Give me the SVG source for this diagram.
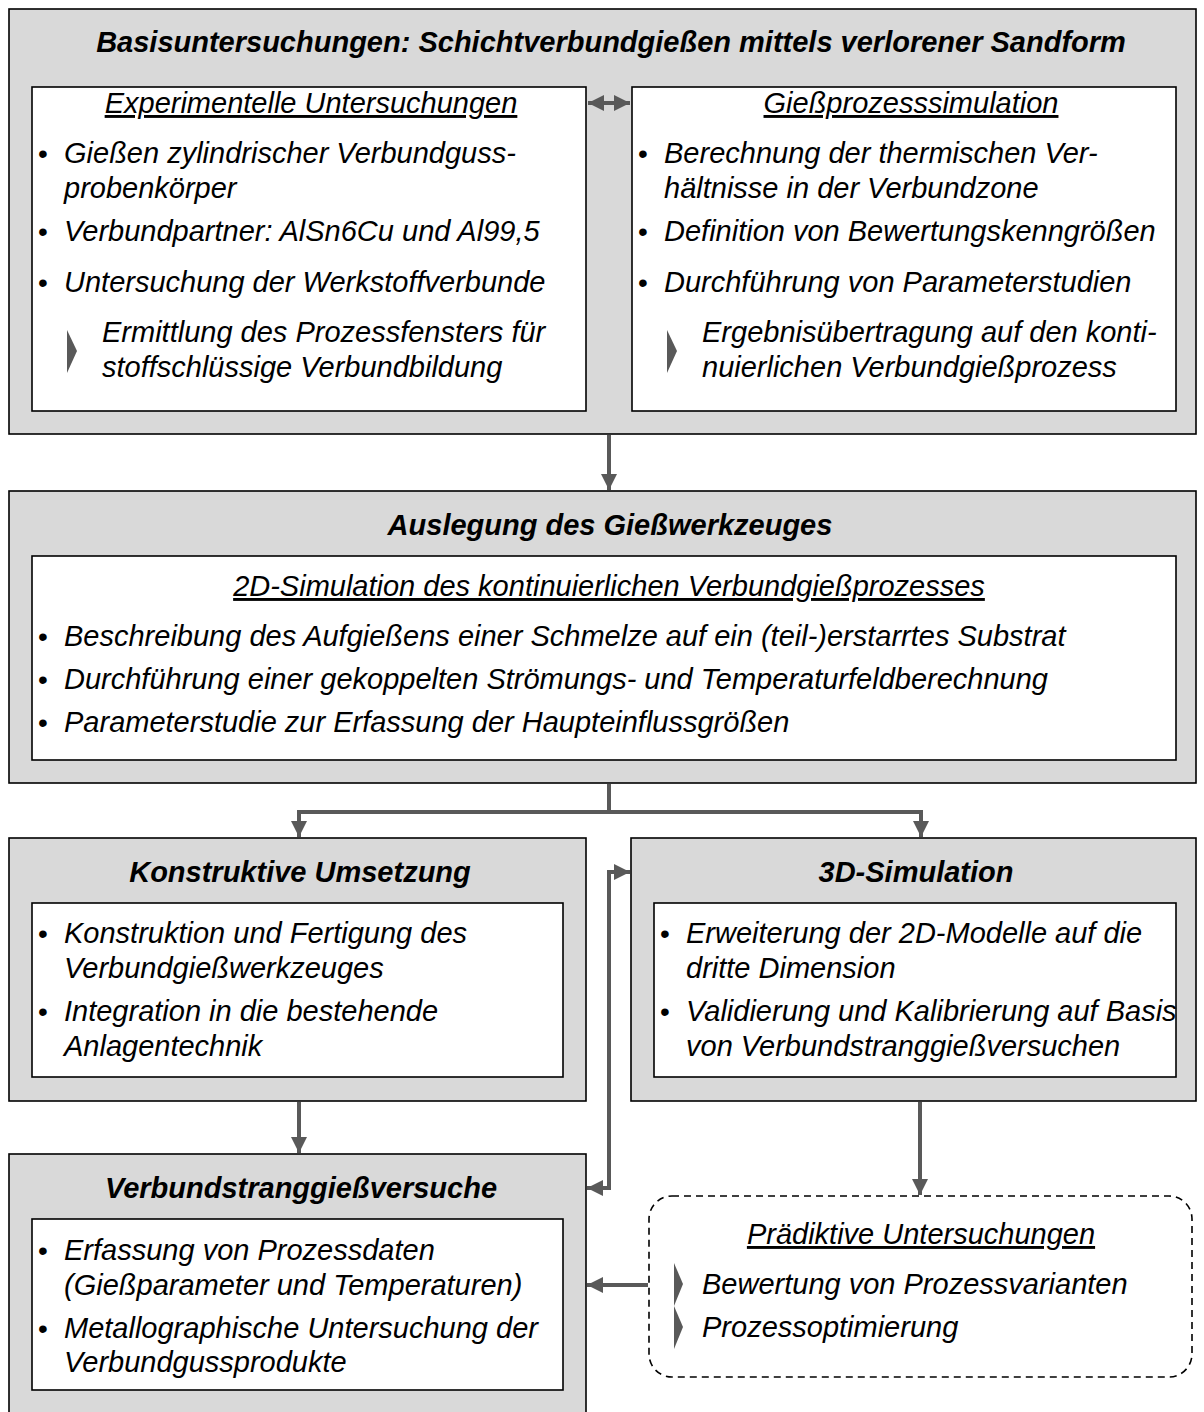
<svg xmlns="http://www.w3.org/2000/svg" width="1204" height="1412" viewBox="0 0 1204 1412">
<defs>
<style>
.outer{fill:#d9d9d9;stroke:#000;stroke-width:1.6}
.inner{fill:#fff;stroke:#000;stroke-width:1.6}
.dash{fill:#fff;stroke:#000;stroke-width:1.6;stroke-dasharray:7,5}
.t{font-family:"Liberation Sans",Arial,sans-serif;font-size:29px;font-style:italic;fill:#000}
.h{font-family:"Liberation Sans",Arial,sans-serif;font-size:29px;font-style:italic;font-weight:bold;fill:#000}
.b{font-family:"Liberation Sans",Arial,sans-serif;font-size:28px;fill:#000}
.u{text-decoration:underline}
.m{text-anchor:middle}
.c{fill:none;stroke:#595959;stroke-width:4}
.tri{fill:#595959}
</style>
<marker id="ah" viewBox="0 0 10 10" refX="10" refY="5" markerWidth="4" markerHeight="4" markerUnits="strokeWidth" orient="auto-start-reverse">
<path d="M0,0 L10,5 L0,10 z" fill="#595959"/>
</marker>
</defs>

<g id="node-basis">
<rect class="outer" x="9" y="9" width="1187" height="425"/>
<text class="h m" x="611" y="52">Basisuntersuchungen: Schichtverbundgießen mittels verlorener Sandform</text>
</g>
<g id="node-experimentell">
<rect class="inner" x="32" y="87" width="554" height="324"/>
<text class="t m u" x="311" y="113">Experimentelle Untersuchungen</text>
<text class="b" x="38" y="163">•</text>
<text class="t" x="64" y="163">Gießen zylindrischer Verbundguss-</text>
<text class="t" x="64" y="198">probenkörper</text>
<text class="b" x="38" y="241">•</text>
<text class="t" x="64" y="241">Verbundpartner: AlSn6Cu und Al99,5</text>
<text class="b" x="38" y="292">•</text>
<text class="t" x="64" y="292">Untersuchung der Werkstoffverbunde</text>
<polygon class="tri" points="67,330 77,351 67,373"/>
<text class="t" x="102" y="342">Ermittlung des Prozessfensters für</text>
<text class="t" x="102" y="377">stoffschlüssige Verbundbildung</text>
</g>
<g id="node-simulation">
<rect class="inner" x="632" y="87" width="544" height="324"/>
<text class="t m u" x="911" y="113">Gießprozesssimulation</text>
<text class="b" x="638" y="163">•</text>
<text class="t" x="664" y="163">Berechnung der thermischen Ver-</text>
<text class="t" x="664" y="198">hältnisse in der Verbundzone</text>
<text class="b" x="638" y="241">•</text>
<text class="t" x="664" y="241">Definition von Bewertungskenngrößen</text>
<text class="b" x="638" y="292">•</text>
<text class="t" x="664" y="292">Durchführung von Parameterstudien</text>
<polygon class="tri" points="667,330 677,351 667,373"/>
<text class="t" x="702" y="342">Ergebnisübertragung auf den konti-</text>
<text class="t" x="702" y="377">nuierlichen Verbundgießprozess</text>
</g>

<g id="node-auslegung">
<rect class="outer" x="9" y="491" width="1187" height="292"/>
<text class="h m" x="610" y="535">Auslegung des Gießwerkzeuges</text>
<rect class="inner" x="32" y="556" width="1144" height="204"/>
<text class="t m u" x="609" y="596">2D-Simulation des kontinuierlichen Verbundgießprozesses</text>
<text class="b" x="38" y="646">•</text>
<text class="t" x="64" y="646">Beschreibung des Aufgießens einer Schmelze auf ein (teil-)erstarrtes Substrat</text>
<text class="b" x="38" y="689">•</text>
<text class="t" x="64" y="689">Durchführung einer gekoppelten Strömungs- und Temperaturfeldberechnung</text>
<text class="b" x="38" y="732">•</text>
<text class="t" x="64" y="732">Parameterstudie zur Erfassung der Haupteinflussgrößen</text>
</g>

<g id="node-konstruktiv">
<rect class="outer" x="9" y="838" width="577" height="263"/>
<text class="h m" x="300" y="882">Konstruktive Umsetzung</text>
<rect class="inner" x="32" y="903" width="531" height="174"/>
<text class="b" x="38" y="943">•</text>
<text class="t" x="64" y="943">Konstruktion und Fertigung des</text>
<text class="t" x="64" y="978">Verbundgießwerkzeuges</text>
<text class="b" x="38" y="1021">•</text>
<text class="t" x="64" y="1021">Integration in die bestehende</text>
<text class="t" x="64" y="1056">Anlagentechnik</text>
</g>

<g id="node-3d">
<rect class="outer" x="631" y="838" width="565" height="263"/>
<text class="h m" x="916" y="882">3D-Simulation</text>
<rect class="inner" x="654" y="903" width="522" height="174"/>
<text class="b" x="660" y="943">•</text>
<text class="t" x="686" y="943">Erweiterung der 2D-Modelle auf die</text>
<text class="t" x="686" y="978">dritte Dimension</text>
<text class="b" x="660" y="1021">•</text>
<text class="t" x="686" y="1021">Validierung und Kalibrierung auf Basis</text>
<text class="t" x="686" y="1056">von Verbundstranggießversuchen</text>
</g>

<g id="node-versuche">
<rect class="outer" x="9" y="1154" width="577" height="275"/>
<text class="h m" x="301" y="1198">Verbundstranggießversuche</text>
<rect class="inner" x="32" y="1219" width="531" height="171"/>
<text class="b" x="38" y="1260">•</text>
<text class="t" x="64" y="1260">Erfassung von Prozessdaten</text>
<text class="t" x="64" y="1295">(Gießparameter und Temperaturen)</text>
<text class="b" x="38" y="1338">•</text>
<text class="t" x="64" y="1338">Metallographische Untersuchung der</text>
<text class="t" x="64" y="1372">Verbundgussprodukte</text>
</g>

<g id="node-praediktiv">
<rect class="dash" x="649" y="1196" width="543" height="181" rx="23" ry="23"/>
<text class="t m u" x="921" y="1244">Prädiktive Untersuchungen</text>
<polygon class="tri" points="674,1263 683,1284 674,1306"/>
<text class="t" x="702" y="1294">Bewertung von Prozessvarianten</text>
<polygon class="tri" points="674,1306 683,1327 674,1349"/>
<text class="t" x="702" y="1337">Prozessoptimierung</text>
</g>

<g id="connectors">
<line class="c" x1="588" y1="103" x2="630" y2="103" marker-start="url(#ah)" marker-end="url(#ah)"/>
<line class="c" x1="609" y1="435" x2="609" y2="490" marker-end="url(#ah)"/>
<polyline class="c" points="609,784 609,812 299,812 299,837" marker-end="url(#ah)"/>
<polyline class="c" points="609,812 921,812 921,837" marker-end="url(#ah)"/>
<polyline class="c" points="630,872 609,872 609,1188 587,1188" marker-start="url(#ah)" marker-end="url(#ah)"/>
<line class="c" x1="299" y1="1102" x2="299" y2="1153" marker-end="url(#ah)"/>
<line class="c" x1="920" y1="1102" x2="920" y2="1195" marker-end="url(#ah)"/>
<line class="c" x1="648" y1="1285" x2="587" y2="1285" marker-end="url(#ah)"/>
</g>
</svg>
